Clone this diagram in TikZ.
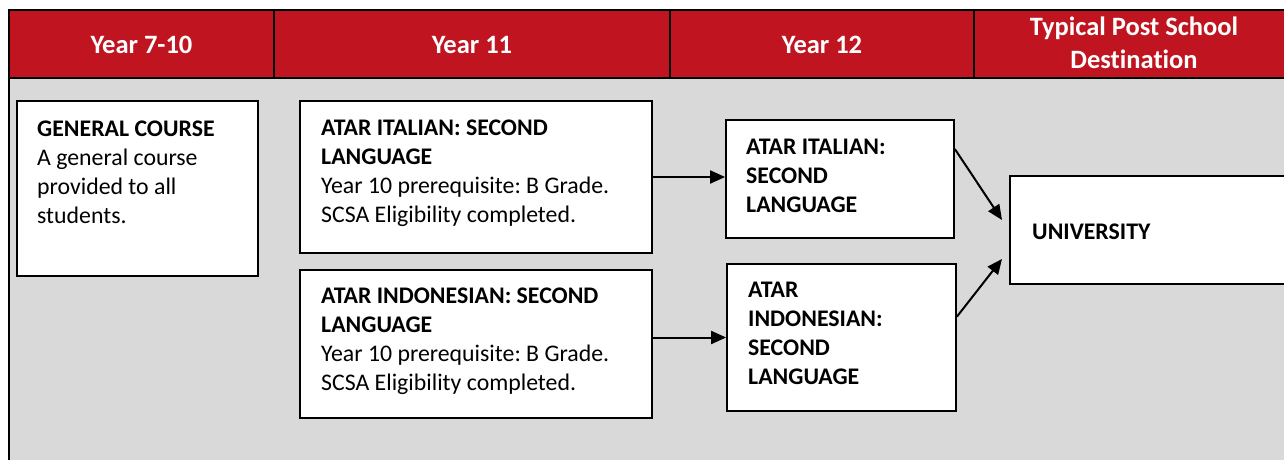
\documentclass[tikz,border=0pt]{standalone}
\usepackage{fontspec}
\setmainfont{Carlito}[Ligatures={NoCommon,TeX}]
\usetikzlibrary{arrows.meta,calc}
\definecolor{hdrred}{RGB}{192,21,32}
\definecolor{bodygray}{RGB}{217,217,217}
\newcommand{\bodyfnt}{\fontsize{23.8}{29}\selectfont}
\newcommand{\hdrfnt}{\fontsize{26.5}{33}\selectfont\bfseries}
\frenchspacing
\tikzset{
  box/.style={draw=black, line width=1.8pt, fill=white, inner sep=0pt},
  txt/.style={anchor=base west, inner sep=0pt, font=\bodyfnt},
  hdr/.style={anchor=base, inner sep=0pt, text=white, font=\hdrfnt},
  rule/.style={line width=2pt, draw=black},
  arr/.style={line width=2pt, -{Triangle[length=15pt,width=13pt]}}
}
\begin{document}
\begin{tikzpicture}[x=1pt,y=-1pt]
\useasboundingbox (0,0) rectangle (1284,460);
\fill[bodygray] (9,78) rectangle (1295,465);
\fill[hdrred] (9,10) rectangle (1295,78);
\draw[rule] (9,10) -- (1295,10);
\draw[rule] (9,78) -- (1295,78);
\draw[rule] (9,9) -- (9,465);
\foreach \x in {274,670,974} \draw[rule] (\x,10) -- (\x,78);
% headers
\node[hdr] (h1) at (141.5,54) {Year 7-10};
\node[hdr] (h2) at (472,54) {Year 11};
\node[hdr] (h3) at (822,54) {Year 12};
\node[hdr] (h4) at (1134,36) {\parbox[t]{300pt}{\centering Typical Post School\\Destination}};
% boxes
\node[box, minimum width=241pt, minimum height=175pt] (gen) at (137.5,188.5) {};
\node[box, minimum width=352pt, minimum height=152pt] (y11a) at (476,177) {};
\node[box, minimum width=352pt, minimum height=148pt] (y11b) at (476,344) {};
\node[box, minimum width=228pt, minimum height=118pt] (y12a) at (840,179) {};
\node[box, minimum width=229pt, minimum height=147pt] (y12b) at (841.5,337.5) {};
\node[box, minimum width=290pt, minimum height=108pt] (uni) at (1155,230) {};
% texts
\node[txt] (tgen) at (37,136) {\parbox[t]{220pt}{\textbf{GENERAL COURSE}\\A general course\\provided to all\\students.}};
\node[txt] (ty11a) at (321,135) {\parbox[t]{330pt}{\textbf{ATAR ITALIAN: SECOND}\\\textbf{LANGUAGE}\\Year 10 prerequisite: B Grade.\\SCSA Eligibility completed.}};
\node[txt] (ty11b) at (321,303.5) {\parbox[t]{330pt}{\textbf{ATAR INDONESIAN: SECOND}\\\textbf{LANGUAGE}\\Year 10 prerequisite: B Grade.\\SCSA Eligibility completed.}};
\node[txt] (ty12a) at (746,154) {\parbox[t]{200pt}{\textbf{ATAR ITALIAN:}\\\textbf{SECOND}\\\textbf{LANGUAGE}}};
\node[txt] (ty12b) at (748,297) {\parbox[t]{200pt}{\textbf{ATAR}\\\textbf{INDONESIAN:}\\\textbf{SECOND}\\\textbf{LANGUAGE}}};
\node[txt] (tuni) at (1032,239) {\textbf{UNIVERSITY}};
% connectors
\draw[arr] (y11a.east) -- (y11a.east -| y12a.west);
\draw[arr] (y12b.west -| y11b.east) -- (y12b.west);
\coordinate (ua) at (1002,220);
\coordinate (ub) at (1002,259);
\draw[arr] ($(y12a.north east)!0.25!(y12a.south east)$) -- (ua);
\draw[arr] ($(y12b.north east)!0.36!(y12b.south east)$) -- (ub);
\end{tikzpicture}
\end{document}
